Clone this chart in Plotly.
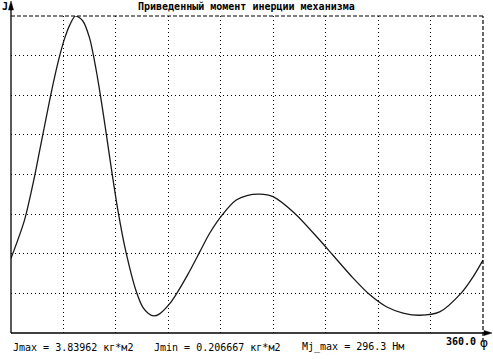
import plotly.graph_objects as go

# ---- data ----
phi_deg = [0, 10.3, 17.9, 21.7, 29.4, 33.2, 37.5, 40.8, 44.6, 49.2, 54.8, 59.9, 62.4, 65.5,
           68.8, 72.6, 76.9, 81.5, 87.4, 95.5, 100.6, 104.8, 109.0, 113.3, 120.9, 126.1, 134.9,
           144.4, 151.5, 161.6, 171.8, 179.9, 189.6, 199.8, 216.3, 235.4, 245.1, 260.8, 273.5,
           286.3, 299.0, 311.7, 326.9, 343.5, 352.4, 360]
J_values = [0.904, 1.368, 1.892, 2.196, 2.812, 3.097, 3.381, 3.563, 3.723, 3.840, 3.779,
            3.575, 3.400, 3.137, 2.817, 2.418, 1.954, 1.489, 1.000, 0.505, 0.310, 0.237, 0.207,
            0.232, 0.352, 0.472, 0.710, 0.995, 1.208, 1.440, 1.610, 1.665, 1.682, 1.652, 1.451,
            1.126, 0.951, 0.668, 0.465, 0.318, 0.242, 0.215, 0.255, 0.486, 0.680, 0.883]

J_max = 3.83962
J_min = 0.206667
Mj_max = 296.3
phi_end = 360.0
title_text = "Приведенный момент инерции механизма"
unit_J = "кг*м2"
unit_M = "Нм"

# ---- layout geometry (pixels) ----
WIDTH, HEIGHT = 493, 359
L, R, T, B = 11, 10, 16, 26
PW, PH = WIDTH - L - R, HEIGHT - T - B


def xp(px):
    return (px - L) / PW


def yp(py):
    return (HEIGHT - B - py) / PH


MONO = "DejaVu Sans Mono"

fig = go.Figure()
fig.add_trace(go.Scatter(
    x=phi_deg, y=J_values, mode="lines",
    line=dict(color="#1a1a1a", width=1.3, shape="spline", smoothing=0.8),
    hoverinfo="skip", showlegend=False,
))

grid_x = [40 * k for k in range(1, 9)]
grid_y = [J_max / 8 * k for k in range(1, 8)]

fig.update_xaxes(range=[0, phi_end], tickvals=grid_x, showticklabels=False, ticks="",
                 showgrid=True, gridcolor="black", gridwidth=1, griddash="1px,3px",
                 zeroline=False, showline=False, fixedrange=True)
fig.update_yaxes(range=[0, J_max], tickvals=grid_y, showticklabels=False, ticks="",
                 showgrid=True, gridcolor="black", gridwidth=1, griddash="1px,3px",
                 zeroline=False, showline=False, fixedrange=True)

shapes = []
# top dashed border (J max level)
shapes.append(dict(type="line", xref="paper", yref="paper", x0=0, x1=1, y0=1, y1=1,
                   line=dict(color="black", width=1.2, dash="4px,2px")))
# right dashed border (phi = 360)
shapes.append(dict(type="line", xref="paper", yref="paper", x0=1, x1=1, y0=yp(342), y1=1,
                   line=dict(color="black", width=1.2, dash="4px,2px")))
# y axis
shapes.append(dict(type="line", xref="paper", yref="paper", x0=0, x1=0, y0=0, y1=yp(5),
                   line=dict(color="black", width=1.3)))
# x axis
shapes.append(dict(type="line", xref="paper", yref="paper", x0=0, x1=xp(488), y0=0, y1=0,
                   line=dict(color="black", width=1.3)))
# y arrow head
shapes.append(dict(type="path", xref="paper", yref="paper",
                   path=f"M {xp(11)},{yp(1)} L {xp(8.5)},{yp(10)} L {xp(13.5)},{yp(10)} Z",
                   fillcolor="black", line=dict(color="black", width=0.5)))
# x arrow head
shapes.append(dict(type="path", xref="paper", yref="paper",
                   path=f"M {xp(492)},{yp(333)} L {xp(484)},{yp(330.5)} L {xp(484)},{yp(335.5)} Z",
                   fillcolor="black", line=dict(color="black", width=0.5)))

annotations = [
    dict(text="<b>J</b>", x=xp(5), y=yp(7), xanchor="center", yanchor="middle"),
    dict(text=f"<b>{title_text}</b>", x=xp(246), y=yp(7), xanchor="center", yanchor="middle"),
    dict(text=f"Jmax = {J_max:g} {unit_J}", x=xp(11), y=yp(347), xanchor="left", yanchor="middle"),
    dict(text=f"Jmin = {J_min:g} {unit_J}", x=xp(152), y=yp(347), xanchor="left", yanchor="middle"),
    dict(text=f"Mj_max = {Mj_max:g} {unit_M}", x=xp(300), y=yp(347), xanchor="left", yanchor="middle"),
    dict(text=f"<b>{phi_end:.1f}</b>", x=xp(478), y=yp(341), xanchor="right", yanchor="middle"),
    dict(text="φ", x=xp(484.5), y=yp(342), xanchor="center", yanchor="middle",
         font=dict(family=MONO, size=13, color="black")),
]
for a in annotations:
    a.setdefault("font", dict(family=MONO, size=10, color="black"))
    a.update(xref="paper", yref="paper", showarrow=False)

fig.update_layout(
    width=WIDTH, height=HEIGHT,
    margin=dict(l=L, r=R, t=T, b=B, pad=0),
    paper_bgcolor="white", plot_bgcolor="white",
    shapes=shapes, annotations=annotations,
    showlegend=False,
)

fig.write_html("out.html", config={"displayModeBar": False},
               post_script="document.body.style.margin='0';document.body.style.overflow='hidden';")
